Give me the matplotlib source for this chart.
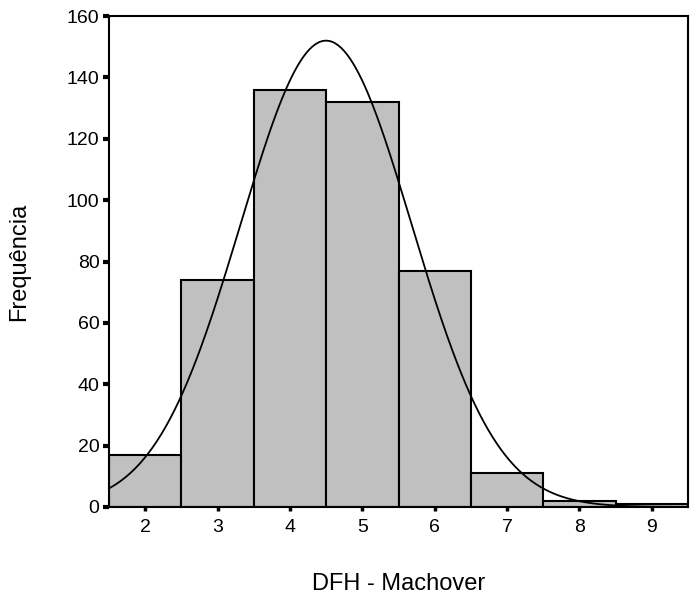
import matplotlib
matplotlib.use('Agg')
import matplotlib.pyplot as plt
import numpy as np

plt.rcParams['font.family'] = ['Liberation Sans', 'DejaVu Sans']

# histogram data
scores = [2, 3, 4, 5, 6, 7, 8, 9]
counts = [17, 74, 136, 132, 77, 11, 2, 1]

n = sum(counts)
mean = np.dot(scores, counts) / n
sd = np.sqrt(np.dot((np.array(scores) - mean) ** 2, counts) / (n - 1))

fig = plt.figure(figsize=(6.95, 5.94), dpi=100)
ax = fig.add_axes([0.157, 0.1465, 0.833, 0.8265])

ax.bar(scores, counts, width=1.0, color='#c0c0c0', edgecolor='black', linewidth=1.5, zorder=2)

# normal curve fitted to the data
xs = np.linspace(1.5, 9.5, 400)
ys = n * np.exp(-(xs - mean) ** 2 / (2 * sd ** 2)) / (sd * np.sqrt(2 * np.pi))
ax.plot(xs, ys, color='black', linewidth=1.3, zorder=3)

ax.set_xlim(1.5, 9.5)
ax.set_ylim(0, 160)
ax.set_xticks(scores)
ax.set_yticks(range(0, 161, 20))
ax.tick_params(axis='x', direction='out', length=3, width=2.5, pad=6, labelsize=14)
ax.tick_params(axis='y', direction='out', length=4, width=3, pad=3, labelsize=14)

for s in ax.spines.values():
    s.set_linewidth(1.5)

ax.set_xlabel('DFH - Machover', fontsize=17, labelpad=26)
ax.set_ylabel('Frequência', fontsize=17, labelpad=26)

fig.savefig('out.png', dpi=100)
